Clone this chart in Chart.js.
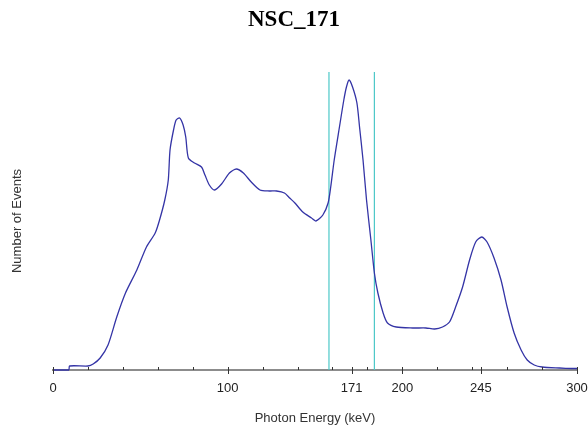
<!DOCTYPE html>
<html>
<head>
<meta charset="utf-8">
<script src="https://cdn.jsdelivr.net/npm/chart.js@4.4.1/dist/chart.umd.min.js"></script>
<style>
  html, body { margin: 0; padding: 0; background: #fff; }
  #wrap { width: 588px; height: 432px; }
</style>
</head>
<body>
<div id="wrap"><canvas id="spectrum" width="588" height="432"></canvas></div>
<script>
// spectrum trace (energy in keV, counts in arbitrary units)
var energy = [0, 9, 9.5, 20, 23, 27, 31.5, 36.5, 41.5, 48, 53.5, 58.5, 61, 64, 66, 67, 69, 70.5,
    72.5, 74.5, 76, 77.5, 81, 85, 87, 89.5, 92.5, 96.5, 101, 105, 109, 113.5, 118.5, 124, 128,
    132.5, 135.5, 138.5, 143, 148, 150.5, 154.5, 157.5, 159, 161, 164, 166.5, 168, 169.5, 171.5,
    174, 175.5, 177.5, 179.5, 182, 184, 186, 189, 191.5, 196.5, 206, 213.5, 218.5, 223, 227,
    230.5, 234.5, 238.5, 242, 245.5, 248.5, 252.5, 256.5, 260, 264, 268, 271.5, 275.5, 280, 290, 297, 300];
var counts = [0, 0, 4, 4, 6, 12, 25, 53, 77, 100, 123, 137, 150, 170, 190, 220, 240, 250,
    252, 245, 233, 212, 207, 203, 195, 185, 180, 186, 197, 201, 197, 188, 180, 179, 179,
    177, 172, 167, 158, 152, 149, 155, 167, 183, 210, 243, 270, 283, 290, 283,
    267, 243, 210, 170, 130, 97, 77, 57, 47, 43, 42, 42, 41, 43, 48,
    63, 83, 110, 128, 133, 128, 112, 90, 63, 37, 20, 10, 5, 3, 2, 1.5, 1.5];

// region-of-interest markers
var roiLines = [158, 184];

// axis ticks
var majorTicks = [0, 100, 171, 200, 245, 300];
var minorTicks = [20, 40, 60, 80, 120, 140, 160, 180, 220, 240, 260, 280];

var yTop = 298;

var points = [];
for (var i = 0; i < energy.length; i++)
    points.push({x: energy[i], y: counts[i]});

var datasets = [{
    data: points,
    borderColor: '#3434a6',
    borderWidth: 1.3,
    pointRadius: 0,
    tension: 0.25,
    clip: false
}];
roiLines.forEach(function(v) {
    datasets.push({
        data: [{x: v, y: 0}, {x: v, y: yTop}],
        borderColor: '#4cc8c8',
        borderWidth: 1.2,
        pointRadius: 0
    });
});

var sans = '"Liberation Sans", Arial, sans-serif';

// tick marks: long across the axis for labelled ticks, short above it for the rest
var tickMarks = {
    id: 'tickMarks',
    afterDatasetsDraw: function(chart) {
        var ctx = chart.ctx, xs = chart.scales.x, y0 = chart.chartArea.bottom;
        ctx.save();
        ctx.strokeStyle = '#333';
        ctx.lineWidth = 1;
        majorTicks.forEach(function(v) {
            var px = Math.round(xs.getPixelForValue(v)) + 0.5;
            ctx.beginPath(); ctx.moveTo(px, y0 - 3); ctx.lineTo(px, y0 + 4); ctx.stroke();
        });
        minorTicks.forEach(function(v) {
            var px = Math.round(xs.getPixelForValue(v)) + 0.5;
            ctx.beginPath(); ctx.moveTo(px, y0 - 3); ctx.lineTo(px, y0); ctx.stroke();
        });
        ctx.restore();
    }
};

var chart = new Chart(document.getElementById('spectrum').getContext('2d'), {
    type: 'line',
    data: {datasets: datasets},
    plugins: [tickMarks],
    options: {
        responsive: false,
        animation: false,
        layout: {padding: 0},
        plugins: {
            legend: {display: false},
            tooltip: {enabled: false},
            title: {
                display: true,
                text: 'NSC_171',
                color: '#000',
                font: {family: '"Liberation Serif", "Times New Roman", serif', size: 23, weight: 'bold'},
                padding: {top: 6, bottom: 38.4}
            }
        },
        scales: {
            x: {
                type: 'linear',
                min: 0,
                max: 300,
                afterBuildTicks: function(scale) {
                    scale.ticks = majorTicks.map(function(v) { return {value: v}; });
                },
                afterFit: function(scale) {
                    scale.height = 62;
                    scale.paddingLeft = 0;
                    scale.paddingRight = 11;
                },
                grid: {display: false, drawTicks: false},
                border: {display: true, color: '#8c8c8c', width: 2},
                ticks: {
                    padding: 11,
                    color: '#222',
                    maxRotation: 0,
                    autoSkip: false,
                    font: {family: sans, size: 13},
                    callback: function(v) { return String(v); }
                },
                title: {
                    display: true,
                    text: 'Photon Energy (keV)',
                    color: '#333',
                    font: {family: sans, size: 13},
                    padding: {top: 0, bottom: 6}
                }
            },
            y: {
                min: 0,
                max: yTop,
                afterFit: function(scale) { scale.width = 53; },
                grid: {display: false, drawTicks: false},
                border: {display: false},
                ticks: {display: false},
                title: {
                    display: true,
                    text: 'Number of Events',
                    color: '#333',
                    font: {family: sans, size: 13},
                    padding: {top: 10, bottom: 0}
                }
            }
        }
    }
});
</script>
</body>
</html>
